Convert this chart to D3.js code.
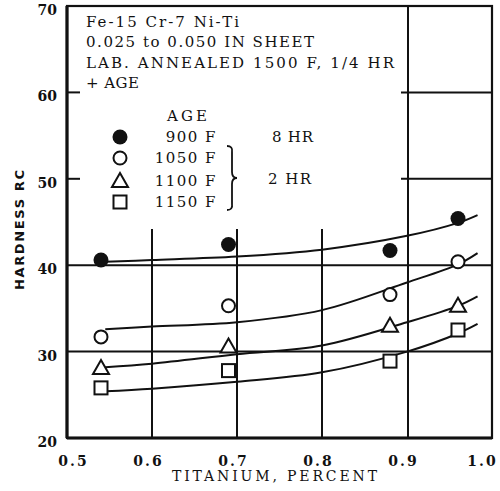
<!DOCTYPE html>
<html>
<head>
<meta charset="utf-8">
<script src="https://cdn.jsdelivr.net/npm/d3@7"></script>
<style>
  body { margin: 0; background: #fff; }
  svg text { fill: #111; }
</style>
</head>
<body>
<svg id="chart" width="500" height="491"></svg>
<script>
// titanium content of each sample
let titanium = [0.54, 0.69, 0.88, 0.96];

// hardness at each titanium content, one list per aging treatment
let age900 = [40.6, 42.4, 41.7, 45.4];
let age1050 = [31.7, 35.3, 36.6, 40.4];
let age1100 = [28.1, 30.6, 33.0, 35.3];
let age1150 = [25.8, 27.8, 28.9, 32.5];

// the hand drawn trend curves
let curveX = [0.545, 0.6, 0.7, 0.8, 0.9, 0.96, 0.983];
let curve900 = [40.4, 40.6, 41.0, 41.8, 43.4, 44.9, 45.8];
let curve1050 = [32.6, 32.9, 33.4, 34.8, 38.0, 40.1, 41.4];
let curve1100 = [28.2, 28.6, 29.7, 30.7, 33.4, 35.3, 36.4];
let curve1150 = [25.4, 25.7, 26.5, 27.6, 30.0, 32.1, 33.2];

let xTicks = [0.5, 0.6, 0.7, 0.8, 0.9, 1.0];
let yTicks = [20, 30, 40, 50, 60, 70];

let legendNames = ['900 F', '1050 F', '1100 F', '1150 F'];
let noteLines = ['Fe-15 Cr-7 Ni-Ti', '0.025 to 0.050 IN SHEET', 'LAB. ANNEALED 1500 F, 1/4 HR', '+ AGE'];
let noteWidths = [153, 228, 308, 53];

const svg = d3.select('#chart');
const ink = '#111';
const serif = '"DejaVu Serif", "Liberation Serif", serif';

let x = d3.scaleLinear().domain([0.5, 1.0]).range([67, 492]);
let y = d3.scaleLinear().domain([20, 70]).range([438, 6]);

// grid lines
let grid = svg.append('g').attr('stroke', ink).attr('stroke-width', 2);
[0.6, 0.7, 0.8].forEach(function (v) {
  grid.append('line')
    .attr('x1', x(v)).attr('x2', x(v))
    .attr('y1', 229).attr('y2', y(20));
});
grid.append('line')
  .attr('x1', x(0.9) + 1).attr('x2', x(0.9) + 1)
  .attr('y1', y(70)).attr('y2', y(20));
[30, 40].forEach(function (v) {
  grid.append('line')
    .attr('x1', x(0.5)).attr('x2', x(1.0))
    .attr('y1', y(v)).attr('y2', y(v));
});
[50, 60].forEach(function (v) {
  grid.append('line')
    .attr('x1', x(0.9) - 6).attr('x2', x(1.0))
    .attr('y1', y(v)).attr('y2', y(v));
  grid.append('line')
    .attr('x1', x(0.5)).attr('x2', x(0.5) + 13)
    .attr('y1', y(v)).attr('y2', y(v));
});

// frame
svg.append('rect')
  .attr('x', x(0.5)).attr('y', y(70))
  .attr('width', x(1.0) - x(0.5)).attr('height', y(20) - y(70))
  .attr('fill', 'none').attr('stroke', ink).attr('stroke-width', 2.2);
svg.append('line')
  .attr('x1', x(0.5)).attr('x2', x(0.5)).attr('y1', y(70)).attr('y2', y(20))
  .attr('stroke', ink).attr('stroke-width', 3.2);
svg.append('line')
  .attr('x1', x(0.5)).attr('x2', x(1.0)).attr('y1', y(20)).attr('y2', y(20))
  .attr('stroke', ink).attr('stroke-width', 3.2);

// axes (tick labels only, the frame draws the lines)
let xAxis = svg.append('g')
  .attr('transform', 'translate(0,' + y(20) + ')')
  .call(d3.axisBottom(x).tickValues(xTicks).tickSize(0).tickPadding(18)
    .tickFormat(d3.format('.1f')));
xAxis.select('.domain').remove();
xAxis.selectAll('text')
  .style('font-family', serif).style('font-size', '14px').style('font-weight', 'bold')
  .style('letter-spacing', '2px')
  .attr('dx', function (d) { return d === 0.5 ? '6px' : (d === 1.0 ? '-10px' : '-4px'); });

let yAxis = svg.append('g')
  .attr('transform', 'translate(' + x(0.5) + ',0)')
  .call(d3.axisLeft(y).tickValues(yTicks).tickSize(0).tickPadding(10));
yAxis.select('.domain').remove();
yAxis.selectAll('text')
  .style('font-family', serif).style('font-size', '14px').style('font-weight', 'bold')
  .attr('dy', '0.6em');

svg.append('text')
  .attr('x', 172).attr('y', 481)
  .attr('textLength', 205).attr('lengthAdjust', 'spacing')
  .style('font-family', serif).style('font-size', '14px')
  .text('TITANIUM, PERCENT');

svg.append('text')
  .attr('transform', 'translate(24,290) rotate(-90)')
  .attr('textLength', 120).attr('lengthAdjust', 'spacing')
  .style('font-family', '"DejaVu Sans", sans-serif').style('font-size', '13px').style('font-weight', 'bold')
  .text('HARDNESS RC');

// trend curves
let line = d3.line()
  .x(function (d) { return x(d[0]); })
  .y(function (d) { return y(d[1]); })
  .curve(d3.curveCatmullRom);
[curve900, curve1050, curve1100, curve1150].forEach(function (c) {
  svg.append('path')
    .attr('d', line(curveX.map(function (v, i) { return [v, c[i]]; })))
    .attr('fill', 'none').attr('stroke', ink).attr('stroke-width', 2);
});

// markers
const drawMarker = (g, kind, cx, cy) => {
  if (kind === 0) {
    g.append('circle').attr('cx', cx).attr('cy', cy).attr('r', 7.5).attr('fill', ink);
  } else if (kind === 1) {
    g.append('circle').attr('cx', cx).attr('cy', cy).attr('r', 6.5)
      .attr('fill', '#fff').attr('stroke', ink).attr('stroke-width', 2);
  } else if (kind === 2) {
    g.append('path')
      .attr('d', 'M' + cx + ',' + (cy - 8) + 'L' + (cx + 8) + ',' + (cy + 6) + 'L' + (cx - 8) + ',' + (cy + 6) + 'Z')
      .attr('fill', '#fff').attr('stroke', ink).attr('stroke-width', 2);
  } else {
    g.append('rect').attr('x', cx - 6.5).attr('y', cy - 6.5).attr('width', 13).attr('height', 13)
      .attr('fill', '#fff').attr('stroke', ink).attr('stroke-width', 2);
  }
};

let marks = svg.append('g');
[age900, age1050, age1100, age1150].forEach(function (series, k) {
  series.forEach(function (v, i) {
    drawMarker(marks, k, x(titanium[i]), y(v));
  });
});

// note in the corner
svg.append('g').selectAll('text')
  .data(noteLines)
  .enter()
  .append('text')
  .attr('x', 86)
  .attr('y', function (d, i) { return 26.5 + i * 20.6; })
  .attr('textLength', function (d, i) { return noteWidths[i]; })
  .attr('lengthAdjust', 'spacing')
  .style('font-family', serif).style('font-size', '15px')
  .text(function (d) { return d; });

// legend
let legend = svg.append('g').style('font-family', serif).style('font-size', '15px');
legend.append('text').attr('x', 167).attr('y', 121)
  .attr('textLength', 40).attr('lengthAdjust', 'spacing').text('AGE');
let legendY = [137, 158, 181, 202];
legendNames.forEach(function (name, k) {
  drawMarker(legend, k, 120, legendY[k]);
  legend.append('text')
    .attr('x', 217).attr('y', legendY[k] + 5)
    .attr('text-anchor', 'end')
    .style('letter-spacing', '1.5px')
    .text(name);
});
legend.append('text').attr('x', 272).attr('y', 142)
  .attr('textLength', 41).attr('lengthAdjust', 'spacing').text('8 HR');
legend.append('text').attr('x', 268).attr('y', 184)
  .attr('textLength', 43).attr('lengthAdjust', 'spacing').text('2 HR');
legend.append('path')
  .attr('d', 'M227,146 Q233,146 232,152 L232,172 Q232,178 237,178 Q232,178 232,184 L232,204 Q233,210 227,210')
  .attr('fill', 'none').attr('stroke', ink).attr('stroke-width', 1.8);
</script>
</body>
</html>
